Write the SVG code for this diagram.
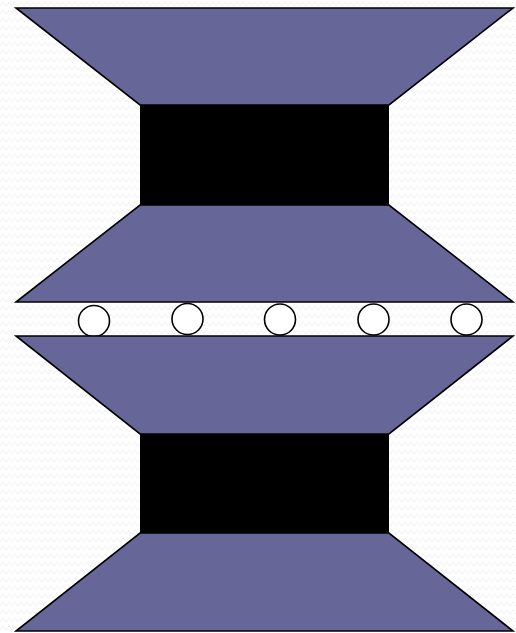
<svg xmlns="http://www.w3.org/2000/svg" width="516" height="633" viewBox="0 0 516 633">
<defs>
<pattern id="bg" width="12" height="8" patternUnits="userSpaceOnUse">
<path d="M0 6 L3 2 L6 6 L9 2 L12 6" fill="none" stroke="#f0f0f0" stroke-width="1"/>
</pattern>
<style>
.trap{fill:#666699;stroke:#000;stroke-width:1.6;stroke-linejoin:miter}
.core{fill:#000}
.ball{fill:#fff;stroke:#000;stroke-width:1.6}
</style>
</defs>
<rect width="516" height="633" fill="#fff"/>
<rect width="516" height="633" fill="url(#bg)"/>
<g id="upper-block">
<polygon class="trap" points="16,8 513,8 389,105 140,105"/>
<rect class="core" x="140" y="105" width="249" height="100"/>
<polygon class="trap" points="140,205 389,205 513,302 16,302"/>
</g>
<g id="balls">
<circle class="ball" cx="94" cy="321" r="15.5"/>
<circle class="ball" cx="187.5" cy="319" r="15.5"/>
<circle class="ball" cx="280" cy="319.5" r="15.5"/>
<circle class="ball" cx="373.5" cy="319.5" r="15.5"/>
<circle class="ball" cx="466.5" cy="319.5" r="15.5"/>
</g>
<g id="lower-block">
<polygon class="trap" points="16,336 513,336 389,434 140,434"/>
<rect class="core" x="140" y="434" width="249" height="99"/>
<polygon class="trap" points="140,533 389,533 513,631 16,631"/>
</g>
</svg>
